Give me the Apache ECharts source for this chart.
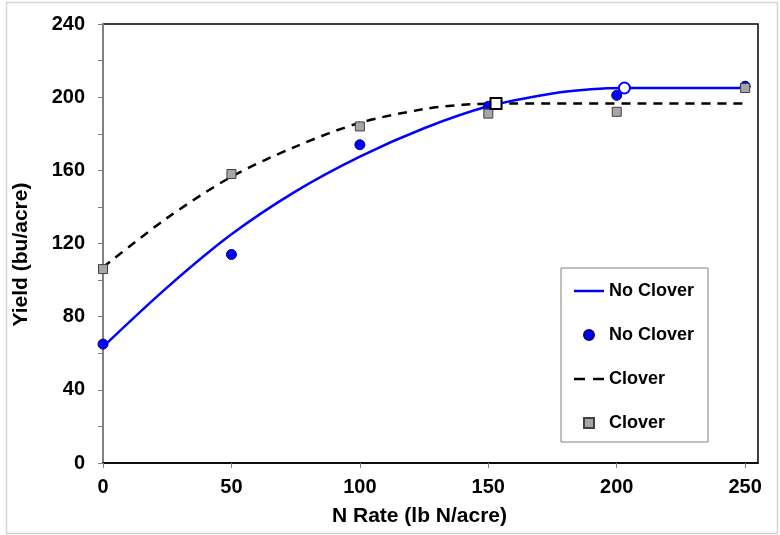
<!DOCTYPE html>
<html>
<head>
<meta charset="utf-8">
<script src="https://cdn.jsdelivr.net/npm/echarts@6/dist/echarts.min.js"></script>
<style>
  html, body { margin: 0; padding: 0; background: #fff; }
  #chart { width: 780px; height: 535px; }
</style>
</head>
<body>
<div id="chart"></div>
<script>
// observed yields
var nRate = [0, 50, 100, 150, 200, 250];
var noCloverObs = [65, 114, 174, 195, 201, 206];
var cloverObs = [106, 158, 184, 191, 192, 205];

// fitted quadratic-plateau curves
var noCloverFitX = [0, 25, 50, 75, 100, 125, 150, 175, 190, 203, 250];
var noCloverFitY = [63.5, 96, 125, 148.5, 167.5, 183, 195, 202, 204.3, 205, 205];
var cloverFitX = [0, 25, 50, 75, 100, 125, 140, 153, 250];
var cloverFitY = [107, 134, 156.5, 173, 186, 193.5, 195.8, 196.5, 196.5];

// join points (open markers)
var noCloverJoin = [203, 205];
var cloverJoin = [153, 196.5];

var xTicks = [0, 50, 100, 150, 200, 250];

function pairs(xs, ys) {
  return xs.map(function (x, i) { return [x, ys[i]]; });
}

var font = "Liberation Sans, Arial, sans-serif";
var chart = echarts.init(document.getElementById("chart"));

chart.setOption({
  animation: false,
  backgroundColor: "#fff",
  graphic: [{
    type: "rect",
    shape: { x: 6.5, y: 2.5, width: 771, height: 531 },
    style: { fill: "none", stroke: "#d4d4d4", lineWidth: 1.5 },
    silent: true
  }],
  grid: {
    left: 103, top: 24, right: 22, bottom: 72,
    show: true, borderColor: "#000", borderWidth: 1.5
  },
  legend: {
    orient: "vertical",
    left: 561, top: 268,
    width: 149,
    padding: [14, 14, 10, 13],
    itemGap: 26,
    itemWidth: 30,
    itemHeight: 10,
    borderColor: "#808080",
    borderWidth: 1,
    backgroundColor: "#fff",
    textStyle: { fontFamily: font, fontWeight: "bold", fontSize: 18, color: "#000" },
    formatter: function (name) { return name.replace(/ (line|obs)$/, ""); },
    data: [
      { name: "No Clover line", icon: "path://M0,0H30V2.5H0Z" },
      { name: "No Clover obs", icon: "circle" },
      { name: "Clover line", icon: "path://M0,0H11V2.5H0Z M19,0H30V2.5H19Z" },
      { name: "Clover obs", icon: "path://M0,0H9V9H0Z" }
    ]
  },
  xAxis: {
    type: "value",
    min: 0, max: 255, interval: 50,
    name: "N Rate (lb N/acre)",
    nameLocation: "middle",
    nameGap: 43,
    nameTextStyle: {
      fontFamily: font, fontWeight: "bold", fontSize: 21, color: "#000",
      padding: [0, 22, 0, 0]
    },
    axisLine: { onZero: false, lineStyle: { color: "#000", width: 1.5 } },
    axisTick: { show: true, length: 5, customValues: xTicks, lineStyle: { color: "#808080" } },
    axisLabel: {
      customValues: xTicks, margin: 14,
      fontFamily: font, fontWeight: "bold", fontSize: 20, color: "#000"
    },
    splitLine: { show: false }
  },
  yAxis: {
    type: "value",
    min: 0, max: 240, interval: 40,
    name: "Yield (bu/acre)",
    nameLocation: "middle",
    nameGap: 71,
    nameTextStyle: {
      fontFamily: font, fontWeight: "bold", fontSize: 21, color: "#000",
      padding: [0, 22, 0, 0]
    },
    axisLine: { show: true, lineStyle: { color: "#808080", width: 2 } },
    axisTick: { show: true, length: 5, lineStyle: { color: "#808080" } },
    minorTick: { show: true, splitNumber: 2, length: 5, lineStyle: { color: "#808080" } },
    axisLabel: { margin: 18, fontFamily: font, fontWeight: "bold", fontSize: 20, color: "#000" },
    splitLine: { show: false }
  },
  series: [
    {
      name: "Clover line",
      type: "line",
      data: pairs(cloverFitX, cloverFitY),
      smooth: 0.3,
      symbol: "none",
      lineStyle: { color: "#000", width: 2.5, type: [9, 7] },
      itemStyle: { color: "#000" },
      z: 2
    },
    {
      name: "No Clover line",
      type: "line",
      data: pairs(noCloverFitX, noCloverFitY),
      smooth: 0.3,
      symbol: "none",
      lineStyle: { color: "#0000ff", width: 2.5 },
      itemStyle: { color: "#0000ff" },
      z: 3
    },
    {
      name: "No Clover obs",
      type: "scatter",
      data: pairs(nRate, noCloverObs),
      symbol: "circle",
      symbolSize: 10,
      itemStyle: { color: "#0000ff", borderColor: "#00007a", borderWidth: 1, opacity: 1 },
      z: 4
    },
    {
      name: "Clover obs",
      type: "scatter",
      data: pairs(nRate, cloverObs),
      symbol: "rect",
      symbolSize: 9,
      itemStyle: { color: "#a6a6a6", borderColor: "#404040", borderWidth: 1, opacity: 1 },
      z: 5
    },
    {
      name: "join",
      type: "scatter",
      data: [noCloverJoin],
      symbol: "circle",
      symbolSize: 11,
      itemStyle: { color: "#fff", borderColor: "#0000ff", borderWidth: 2, opacity: 1 },
      z: 6
    },
    {
      name: "join2",
      type: "scatter",
      data: [cloverJoin],
      symbol: "rect",
      symbolSize: 11,
      itemStyle: { color: "#fff", borderColor: "#000", borderWidth: 2, opacity: 1 },
      z: 6
    }
  ]
});
</script>
</body>
</html>
